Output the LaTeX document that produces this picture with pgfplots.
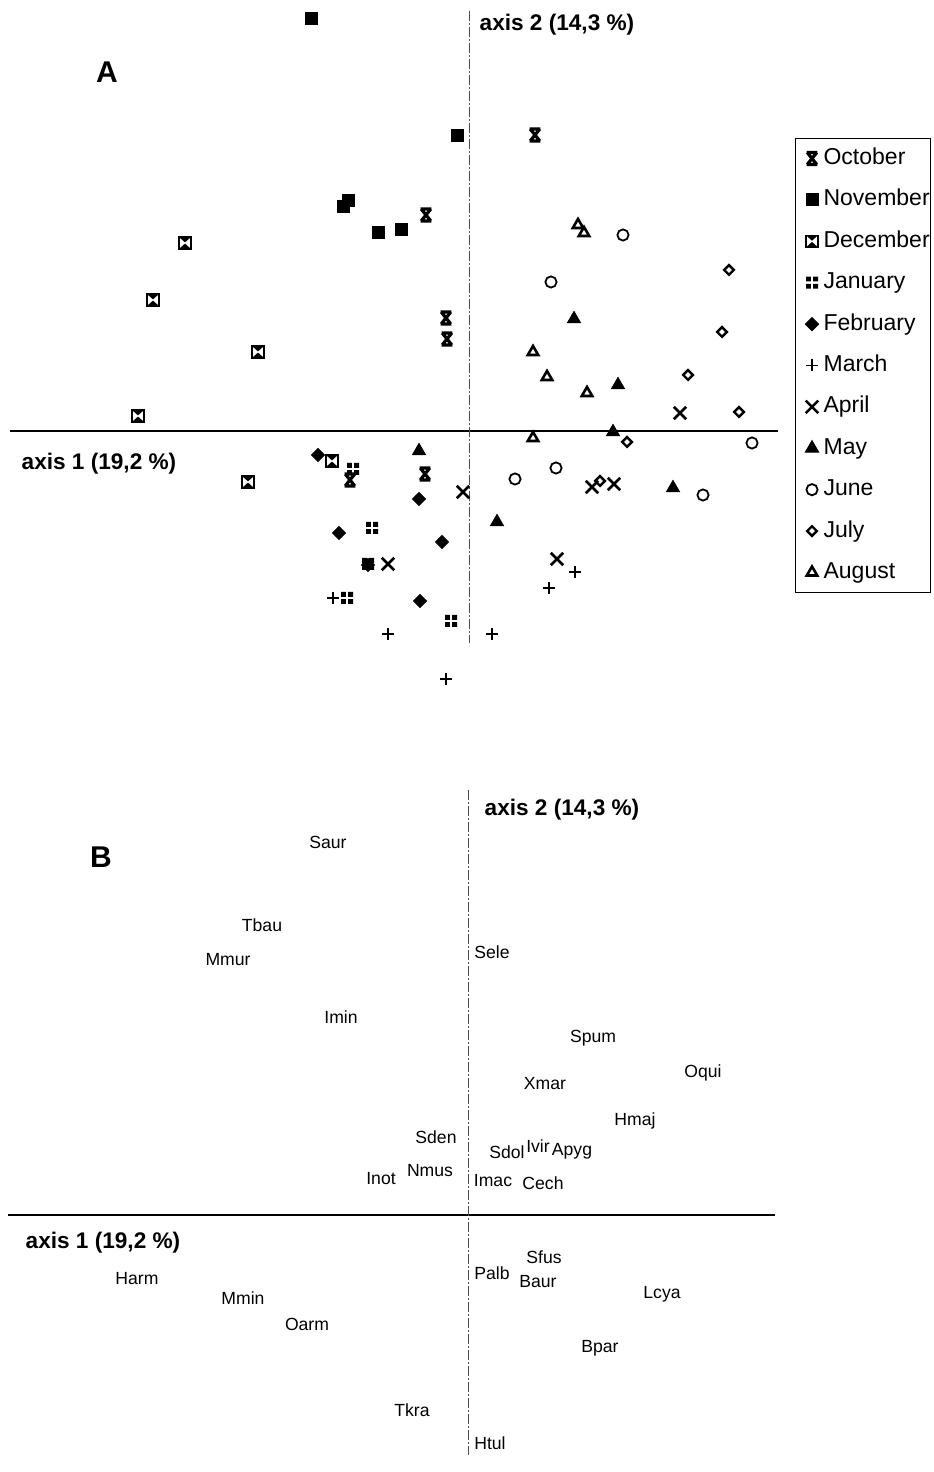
\documentclass[border=0pt]{standalone}
\usepackage{pgfplots}
\pgfplotsset{compat=1.18}
\usepackage{fontspec}
\setmainfont{Liberation Sans}

% October: bold X with bars on top and bottom
\pgfdeclareplotmark{octmark}{%
  \pgfpathmoveto{\pgfqpoint{-.8\pgfplotmarksize}{-\pgfplotmarksize}}%
  \pgfpathlineto{\pgfqpoint{.8\pgfplotmarksize}{\pgfplotmarksize}}%
  \pgfpathmoveto{\pgfqpoint{-.8\pgfplotmarksize}{\pgfplotmarksize}}%
  \pgfpathlineto{\pgfqpoint{.8\pgfplotmarksize}{-\pgfplotmarksize}}%
  \pgfpathmoveto{\pgfqpoint{-.9\pgfplotmarksize}{\pgfplotmarksize}}%
  \pgfpathlineto{\pgfqpoint{.9\pgfplotmarksize}{\pgfplotmarksize}}%
  \pgfpathmoveto{\pgfqpoint{-.9\pgfplotmarksize}{-\pgfplotmarksize}}%
  \pgfpathlineto{\pgfqpoint{.9\pgfplotmarksize}{-\pgfplotmarksize}}%
  \pgfusepathqstroke}
% December: boxed hourglass
\pgfdeclareplotmark{decmark}{%
  \pgfpathrectangle{\pgfqpoint{-\pgfplotmarksize}{-\pgfplotmarksize}}{\pgfqpoint{2\pgfplotmarksize}{2\pgfplotmarksize}}%
  \pgfusepathqstroke
  \pgfpathmoveto{\pgfqpoint{-\pgfplotmarksize}{\pgfplotmarksize}}%
  \pgfpathlineto{\pgfqpoint{\pgfplotmarksize}{\pgfplotmarksize}}%
  \pgfpathlineto{\pgfqpoint{0pt}{0.1\pgfplotmarksize}}%
  \pgfpathclose
  \pgfpathmoveto{\pgfqpoint{-\pgfplotmarksize}{-\pgfplotmarksize}}%
  \pgfpathlineto{\pgfqpoint{\pgfplotmarksize}{-\pgfplotmarksize}}%
  \pgfpathlineto{\pgfqpoint{0pt}{-0.1\pgfplotmarksize}}%
  \pgfpathclose
  \pgfusepathqfill}
% January: four small squares
\pgfdeclareplotmark{janmark}{%
  \pgfpathrectangle{\pgfqpoint{-\pgfplotmarksize}{-\pgfplotmarksize}}{\pgfqpoint{.8\pgfplotmarksize}{.8\pgfplotmarksize}}%
  \pgfpathrectangle{\pgfqpoint{.2\pgfplotmarksize}{-\pgfplotmarksize}}{\pgfqpoint{.8\pgfplotmarksize}{.8\pgfplotmarksize}}%
  \pgfpathrectangle{\pgfqpoint{-\pgfplotmarksize}{.2\pgfplotmarksize}}{\pgfqpoint{.8\pgfplotmarksize}{.8\pgfplotmarksize}}%
  \pgfpathrectangle{\pgfqpoint{.2\pgfplotmarksize}{.2\pgfplotmarksize}}{\pgfqpoint{.8\pgfplotmarksize}{.8\pgfplotmarksize}}%
  \pgfusepathqfill}

\pgfplotsset{
  pca/.style={hide axis, scale only axis, clip=false, width=466.5pt,
    xmin=-469, xmax=464},
  zeroline/.style={black, line width=0.7pt, no markers},
  vline/.style={black!70, line width=0.45pt, no markers,
    dash pattern=on 5pt off 1pt on 1pt off 1pt},
}

\begin{document}
\begin{tikzpicture}
\path[use as bounding box] (0,0) rectangle (466.5pt,736pt);

% ---------- panel A : months ----------
\begin{axis}[pca, at={(0pt,366pt)}, anchor=south west,
  height=370pt, ymin=-309, ymax=431,
  legend cell align=left,
  legend image code/.code={\path (-7.5pt,0pt) (3pt,0pt);
    \draw[#1] plot coordinates {(0pt,0pt)};},
  legend style={at={(0.8521,0.8135)}, anchor=north west,
    draw=black, line width=0.5pt, inner xsep=0.5pt, inner ysep=4.5pt,
    row sep=9.7pt, column sep=2.5pt,
    font=\fontsize{11.5}{13}\selectfont,
    nodes={inner sep=0pt, text height=8.5pt, text depth=2.5pt}},
]
\addplot[black, only marks, mark=octmark, mark size=3pt, mark options={line width=1.6pt}]
  coordinates {(66,296) (-43,216) (-23,113) (-22,92) (-44,-43) (-119,-49)};
\addplot[black, only marks, mark=square*, mark size=3pt]
  coordinates {(-158,413) (-12,296) (-121,231) (-126,225) (-91,199) (-68,202)};
\addplot[black, only marks, mark=decmark, mark size=3pt, mark options={line width=0.6pt}]
  coordinates {(-284,188) (-316,131) (-211,79) (-331,15) (-137,-30) (-221,-51)};
\addplot[black, only marks, mark=janmark, mark size=3pt]
  coordinates {(-116,-38) (-97,-97) (-18,-190) (-122,-167) (-101,-133)};
\addplot[black, only marks, mark=square*, mark size=2.3pt, mark options={rotate=45}]
  coordinates {(-151,-24) (-50,-68) (-130,-102) (-27,-111) (-101,-134) (-49,-170)};
\addplot[black, only marks, mark=+, mark size=3pt, mark options={line width=0.8pt}]
  coordinates {(-136,-167) (-81,-203) (23,-203) (-23,-248) (80,-157) (106,-141)};
\addplot[black, only marks, mark=x, mark size=4.4pt, mark options={line width=1.3pt}]
  coordinates {(-81,-133) (-6,-61) (211,18) (123,-56) (145,-53) (88,-128)};
\addplot[black, only marks, mark=triangle*, mark size=3.8pt]
  coordinates {(-50,-20) (28,-91) (105,112) (149,46) (144,-1) (204,-57)};
\addplot[black, only marks, mark=o, mark size=2.8pt, mark options={line width=0.9pt}]
  coordinates {(154,196) (82,149) (283,-12) (46,-48) (87,-37) (234,-64)};
\addplot[black, only marks, mark=square, mark size=1.7pt, mark options={rotate=45, line width=1.2pt}]
  coordinates {(260,161) (253,99) (219,56) (270,19) (158,-11) (131,-50)};
\addplot[black, only marks, mark=triangle, mark size=3pt, mark options={line width=1.3pt}]
  coordinates {(109,206) (115,198) (64,79) (78,54) (118,38) (64,-7)};
\legend{October,November,December,January,February,March,April,May,June,July,August}

\addplot[zeroline, forget plot] coordinates {(-459,0) (309,0)};
\addplot[vline, forget plot] coordinates {(0,420) (0,-212)};

\node[font=\fontsize{15}{17}\bfseries] at (axis cs:-362,359) {A};
\node[font=\fontsize{11.3}{13}\bfseries] at (axis cs:88,406) {axis 2 (14,3 \%)};
\node[font=\fontsize{11.3}{13}\bfseries] at (axis cs:-370,-33) {axis 1 (19,2 \%)};
\end{axis}

% ---------- panel B : species ----------
\begin{axis}[pca, at={(0pt,0pt)}, anchor=south west,
  xmin=-468, xmax=465, height=366pt, ymin=-257, ymax=475]
\addplot[zeroline] coordinates {(-460,0) (307,0)};
\addplot[vline] coordinates {(0,425) (0,-240)};
\addplot[only marks, mark=none, nodes near coords, point meta=explicit symbolic,
  every node near coord/.append style={anchor=center, inner sep=0pt,
    font=\fontsize{8.8}{10}\selectfont}]
  table[meta=label] {
x y label
-140 373 Saur
-206 290 Tbau
-240 255 Mmur
-127 198 Imin
24 263 Sele
125 177 Spum
235 142 Oqui
77 131 Xmar
167 94 Hmaj
-32 78 Sden
39 63 Sdol
70 69 Ivir
104 64 Apyg
-38 44 Nmus
-87 36 Inot
25 34 Imac
75 32 Cech
-331 -64 Harm
-225 -83 Mmin
-161 -109 Oarm
-56 -195 Tkra
24 -58 Palb
76 -42 Sfus
70 -67 Baur
194 -79 Lcya
132 -133 Bpar
22 -228 Htul
};
\node[font=\fontsize{15}{17}\bfseries] at (axis cs:-367,358) {B};
\node[font=\fontsize{11.3}{13}\bfseries] at (axis cs:94,405) {axis 2 (14,3 \%)};
\node[font=\fontsize{11.3}{13}\bfseries] at (axis cs:-365,-28) {axis 1 (19,2 \%)};
\end{axis}
\end{tikzpicture}
\end{document}
